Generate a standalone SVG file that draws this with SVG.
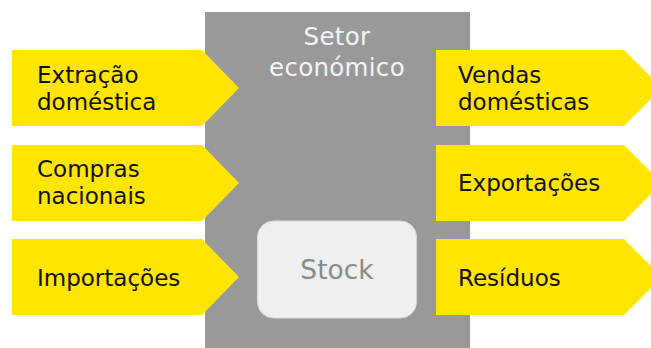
<svg xmlns="http://www.w3.org/2000/svg" width="651" height="348" viewBox="0 0 651 348">
<style>
.arrow{fill:#FFE500}
.lbl{font-family:"DejaVu Sans",Verdana,sans-serif;font-size:23px;fill:#111}
.sec{font-family:"DejaVu Sans",Verdana,sans-serif;font-size:24.5px;fill:#f4f4f4;text-anchor:middle;letter-spacing:0.3px}
.stk{font-family:"DejaVu Sans",Verdana,sans-serif;font-size:26.5px;fill:#8a8a8a;text-anchor:middle}
</style>
<rect width="651" height="348" fill="#fff"/>
<g id="setor">
<rect x="205" y="12" width="265" height="336" fill="#999999"/>
<text class="sec" x="337" y="45">Setor</text>
<text class="sec" x="337" y="76">económico</text>
</g>
<g id="stock">
<rect x="257.5" y="221" width="159" height="97" rx="16" fill="#efefef" stroke="#d8d8d8" stroke-width="1"/>
<text class="stk" x="337" y="279">Stock</text>
</g>
<g id="extracao">
<polygon class="arrow" points="12,50 202,50 239,88 202,126 12,126"/>
<text class="lbl" x="37" y="82.5">Extração</text>
<text class="lbl" x="37" y="109.5">doméstica</text>
</g>
<g id="compras">
<polygon class="arrow" points="12,145 202,145 239,183 202,221 12,221"/>
<text class="lbl" x="37" y="177">Compras</text>
<text class="lbl" x="37" y="204">nacionais</text>
</g>
<g id="importacoes">
<polygon class="arrow" points="12,239 202,239 239,277 202,315 12,315"/>
<text class="lbl" x="37" y="285.5">Importações</text>
</g>
<g id="vendas">
<polygon class="arrow" points="436,50 624,50 662,88 624,126 436,126"/>
<text class="lbl" x="458" y="82.5">Vendas</text>
<text class="lbl" x="458" y="109.5">domésticas</text>
</g>
<g id="exportacoes">
<polygon class="arrow" points="436,145 624,145 662,183 624,221 436,221"/>
<text class="lbl" x="458" y="191">Exportações</text>
</g>
<g id="residuos">
<polygon class="arrow" points="436,239 624,239 662,277 624,315 436,315"/>
<text class="lbl" x="458" y="285.5">Resíduos</text>
</g>
<g id="connectors"></g>
</svg>
